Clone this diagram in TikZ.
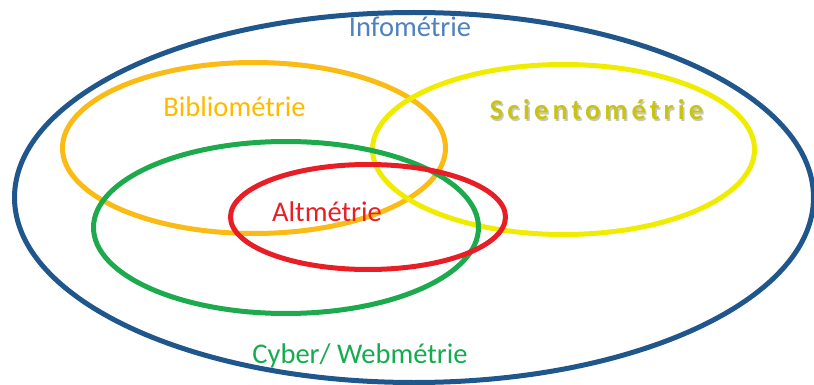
\documentclass[tikz,border=0pt]{standalone}
\usepackage{fontspec}
\setmainfont{Carlito}
\newfontfamily\scifont[LetterSpace=14]{Carlito}
\definecolor{cblue}{RGB}{31,86,140}
\definecolor{tblue}{RGB}{79,129,189}
\definecolor{corange}{RGB}{250,187,20}
\definecolor{torange}{RGB}{255,186,0}
\definecolor{cyellow}{RGB}{240,236,0}
\definecolor{tyellow}{RGB}{200,196,20}
\definecolor{cgreen}{RGB}{28,170,76}
\definecolor{tgreen}{RGB}{20,172,78}
\definecolor{cred}{RGB}{232,30,38}
\begin{document}
\begin{tikzpicture}[x=1pt,y=-1pt,
  ring/.style={line width=5pt},
  lbl/.style={anchor=base,inner sep=0pt,font=\fontsize{28.5}{32}\selectfont}]
\useasboundingbox (0,0) rectangle (814,385);
\draw[ring,cblue] (414,197.5) ellipse [x radius=399.5, y radius=185];
\draw[ring,corange] (254,148) ellipse [x radius=191.5, y radius=85.5];
\draw[ring,cyellow] (563.5,149.5) ellipse [x radius=191, y radius=85];
\draw[ring,cgreen] (286,227.5) ellipse [x radius=192.5, y radius=86];
\draw[ring,cred] (368,217) ellipse [x radius=137.5, y radius=52.5];
\node[lbl,text=tblue] (info) at (410,36.5) {Infométrie};
\node[lbl,text=torange] (biblio) at (234.5,117) {Bibliométrie};
\node[lbl,text=black!22,font=\fontsize{28.5}{32}\scifont\bfseries] (scishadow) at (598,121.5) {Scientométrie};
\node[lbl,text=tyellow,font=\fontsize{28.5}{32}\scifont\bfseries] (scient) at (596.5,120) {Scientométrie};
\node[lbl,text=cred] (alt) at (327,221) {Altmétrie};
\node[lbl,text=tgreen] (cyber) at (360,363) {Cyber/ Webmétrie};
\end{tikzpicture}
\end{document}
